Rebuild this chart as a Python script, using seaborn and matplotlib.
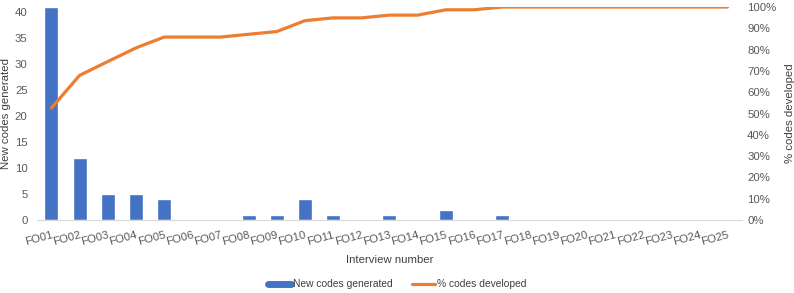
"""
New codes generated per interview with cumulative % developed
"""

import pandas as pd
import numpy as np
import matplotlib.pyplot as plt
import seaborn as sns
from matplotlib.ticker import PercentFormatter
from matplotlib.lines import Line2D

# Data
interviews = ['FO%02d' % i for i in range(1, 26)]
new_codes = [41, 12, 5, 5, 4, 0, 0, 1, 1, 4, 1, 0, 1, 0, 2, 0, 1,
             0, 0, 0, 0, 0, 0, 0, 0]
pct_developed = [52.6, 67.9, 74.4, 80.8, 85.9, 85.9, 85.9, 87.2, 88.5, 93.6,
                 94.9, 94.9, 96.2, 96.2, 98.7, 98.7, 100, 100, 100, 100,
                 100, 100, 100, 100, 100]

df = pd.DataFrame({'interview': interviews, 'new': new_codes,
                   'pct': [p / 100 for p in pct_developed]})

sns.set_style('white')
plt.rcParams['font.family'] = ['Liberation Sans', 'DejaVu Sans']

blue = '#4472C4'
orange = '#ED7D31'
grey = '#595959'
fs = 8.2

fig = plt.figure(figsize=(7.94, 2.93), dpi=100)
ax = fig.add_axes([0.047, 0.249, 0.887, 0.727])

sns.barplot(data=df, x='interview', y='new', color=blue, width=0.5,
            saturation=1, ax=ax)
ax.set_ylim(0, 41)
ax.set_yticks(range(0, 41, 5))
ax.set_xlim(-0.5, len(interviews) - 0.5)

ax2 = ax.twinx()
sns.lineplot(x=np.arange(len(interviews)), y=df['pct'], color=orange,
             linewidth=2.3, ax=ax2)
ax2.set_ylim(0, 1.0)
ax2.set_yticks(np.arange(0, 1.01, 0.1))
ax2.yaxis.set_major_formatter(PercentFormatter(1.0, decimals=0))

for a in (ax, ax2):
    for s in a.spines.values():
        s.set_visible(False)
    a.tick_params(length=0, labelsize=fs, colors=grey, pad=4)
ax.spines['bottom'].set_visible(True)
ax.spines['bottom'].set_color('#D9D9D9')
ax.tick_params(axis='x', pad=7)
ax.tick_params(axis='y', pad=7)

plt.setp(ax.get_xticklabels(), rotation=15, ha='right',
         rotation_mode='anchor')
ax.set_xlabel('Interview number', fontsize=fs, color='#404040', labelpad=6)
ax.set_ylabel('New codes generated', fontsize=fs, color='#404040')
ax.yaxis.set_label_coords(-0.038, 0.5)
ax2.set_ylabel('% codes developed', fontsize=fs, color='#404040', labelpad=6)

handles = [Line2D([0], [0], color=blue, lw=5),
           Line2D([0], [0], color=orange, lw=2.3)]
fig.legend(handles, ['New codes generated', '% codes developed'],
           loc='center', bbox_to_anchor=(0.5, 0.03), ncol=2, frameon=False,
           fontsize=7.4, handlelength=2.2, columnspacing=1.9, handletextpad=0.2,
           labelcolor='#404040')

plt.savefig('out.png', dpi=100)
plt.close()
